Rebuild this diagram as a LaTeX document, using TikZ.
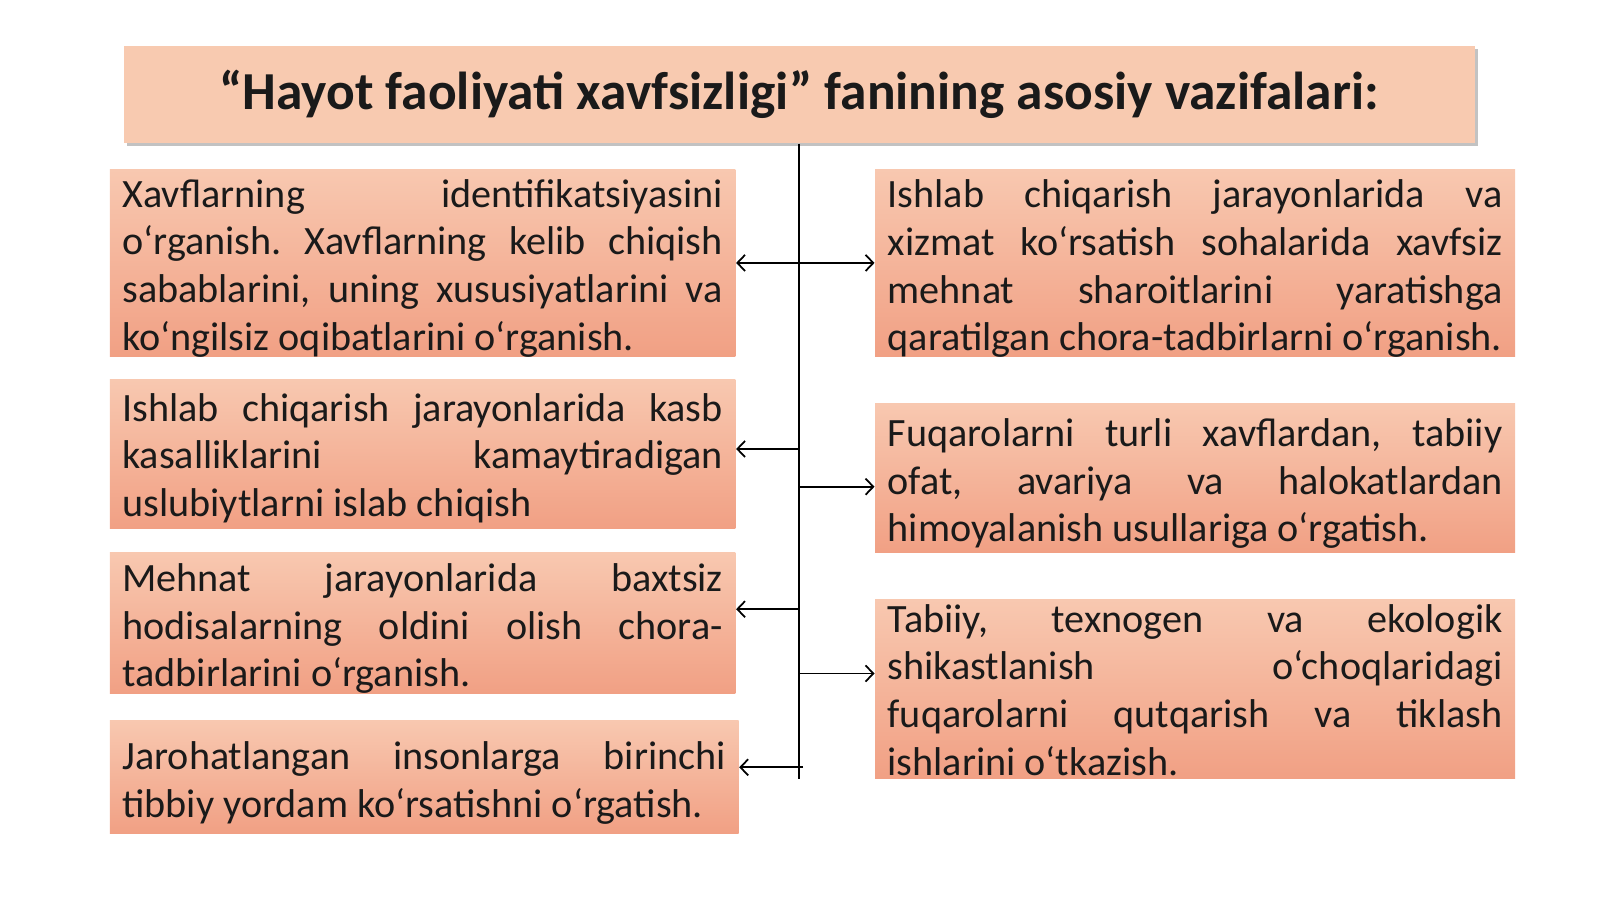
\documentclass[tikz,border=0pt]{standalone}
\usepackage{fontspec}
\setmainfont{Carlito}
\usetikzlibrary{arrows.meta, shadows}

\definecolor{headfill}{HTML}{F8CAB0}
\definecolor{tasktop}{HTML}{F8C8B0}
\definecolor{taskbot}{HTML}{F1A084}
\definecolor{inkcol}{HTML}{1A1A1A}

\begin{document}
\begin{tikzpicture}[
  headbox/.style={fill=headfill, minimum width=13.51cm, minimum height=0.97cm,
    font=\fontsize{15.2}{17}\selectfont\bfseries, text=inkcol,
    drop shadow={shadow xshift=0.03cm, shadow yshift=-0.035cm, fill=black!40, opacity=0.6}},
  taskbox/.style={anchor=north west, top color=tasktop, bottom color=taskbot,
    inner xsep=0.125cm, inner ysep=0pt, text=inkcol,
    font=\fontsize{11.43}{13.58}\selectfont},
  link/.style={line width=0.5pt, -{Straight Barb[length=2.2pt,width=4.6pt]}},
  twoway/.style={line width=0.5pt, {Straight Barb[length=2.2pt,width=4.6pt]}-{Straight Barb[length=2.2pt,width=4.6pt]}}
]

% GLOBAL SETTINGS
\newcommand{\tasktext}[4]{\parbox[c][#1][t]{#2}{\frenchspacing\sloppy\hyphenpenalty=10000\exhyphenpenalty=10000%
\vspace*{#3}\strut #4}}
\newcommand{\leftw}{6.005cm}
\newcommand{\rightw}{6.148cm}

\useasboundingbox (0,0) rectangle (16,-8.99);

% HEADER
\node[headbox] (head) at (7.99,-0.944) {\raisebox{-0.04cm}{“Hayot faoliyati xavfsizligi” fanining asosiy vazifalari:}};

% LEFT COLUMN
\node[taskbox] (L1) at (1.092,-1.684) {\tasktext{1.877cm}{\leftw}{0.045cm}{Xavflarning identifikatsiyasini\linebreak o‘rganish. Xavflarning kelib chiqish\linebreak sabablarini, uning xususiyatlarini va\linebreak ko‘ngilsiz oqibatlarini o‘rganish.}};
\node[taskbox] (L2) at (1.092,-3.786) {\tasktext{1.49cm}{\leftw}{0.083cm}{Ishlab chiqarish jarayonlarida kasb\linebreak kasalliklarini kamaytiradigan\linebreak uslubiytlarni islab chiqish}};
\node[taskbox] (L3) at (1.092,-5.52) {\tasktext{1.409cm}{\leftw}{0.053cm}{Mehnat jarayonlarida baxtsiz\linebreak hodisalarning oldini olish chora-\linebreak tadbirlarini o‘rganish.}};
\node[taskbox] (L4) at (1.092,-7.194) {\tasktext{1.133cm}{6.036cm}{0.163cm}{Jarohatlangan insonlarga birinchi\linebreak tibbiy yordam ko‘rsatishni o‘rgatish.}};

% RIGHT COLUMN
\node[taskbox] (R1) at (8.745,-1.684) {\tasktext{1.877cm}{\rightw}{0.053cm}{Ishlab chiqarish jarayonlarida va\linebreak xizmat ko‘rsatish sohalarida xavfsiz\linebreak mehnat sharoitlarini yaratishga\linebreak qaratilgan chora-tadbirlarni o‘rganish.}};
\node[taskbox] (R2) at (8.745,-4.031) {\tasktext{1.489cm}{\rightw}{0.093cm}{Fuqarolarni turli xavflardan, tabiiy\linebreak ofat, avariya va halokatlardan\linebreak himoyalanish usullariga o‘rgatish.}};
\node[taskbox] (R3) at (8.745,-5.99) {\tasktext{1.786cm}{\rightw}{-0.01cm}{Tabiiy, texnogen va ekologik\linebreak shikastlanish o‘choqlaridagi\linebreak fuqarolarni qutqarish va tiklash\linebreak ishlarini o‘tkazish.}};

% TRUNK & ARROWS
\coordinate (trunkend) at (7.99,-7.786);
\draw[line width=0.5pt] (head.south) -- (trunkend);
\draw[twoway] (L1.east) -- (R1.west);
\foreach \n/\y in {L2/4.49, L3/6.092} {
  \coordinate (s\n) at (7.99,-\y);
  \draw[link] (s\n) -- (s\n -| \n.east);
}
\coordinate (sL4) at (8.03,-7.673);
\draw[link] (sL4) -- (sL4 -| L4.east);
\foreach \n/\y in {R2/4.867, R3/6.735} {
  \coordinate (s\n) at (7.99,-\y);
  \draw[link] (s\n) -- (s\n -| \n.west);
}

\end{tikzpicture}
\end{document}
